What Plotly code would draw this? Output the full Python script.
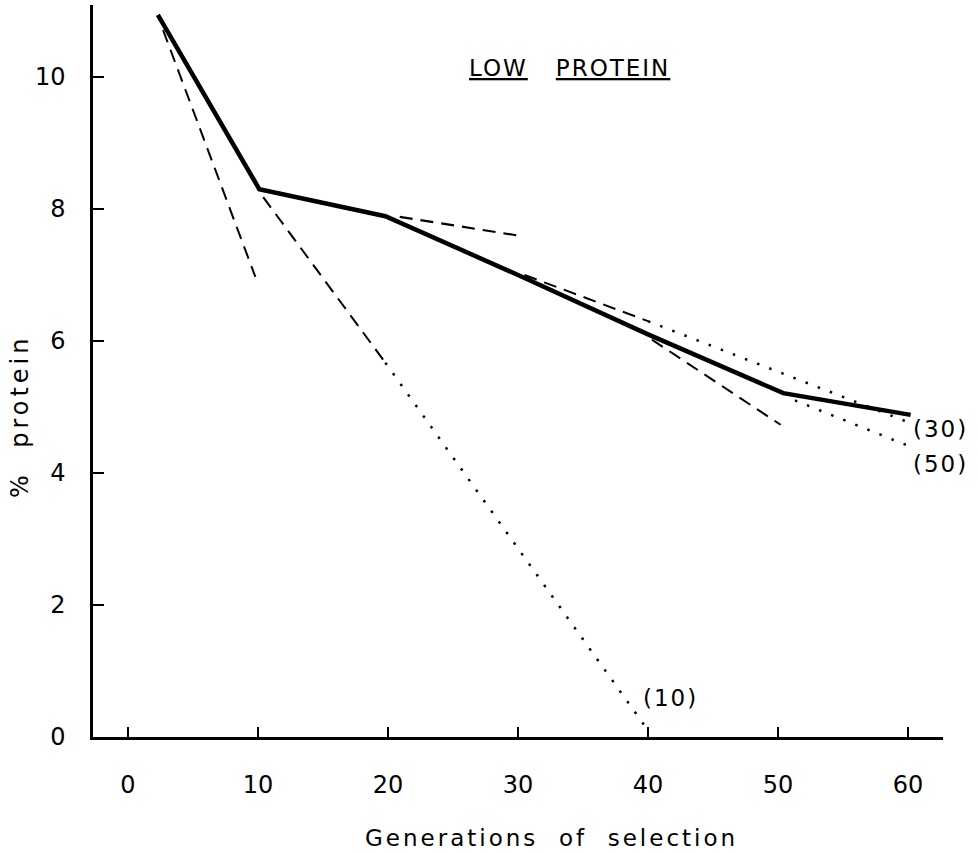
import plotly.graph_objects as go

# Observed response (solid line)
gen_obs = [2.3, 10.1, 19.8, 30.0, 40.0, 50.4, 60.2]
prot_obs = [10.94, 8.3, 7.89, 7.0, 6.1, 5.21, 4.88]

# Predicted responses from various generations (dashed = short term, dotted = extrapolation)
p2_dash_x, p2_dash_y = [2.7, 9.8], [10.71, 6.97]
p10_dash_x, p10_dash_y = [10.4, 19.8], [8.18, 5.67]
p10_dot_x, p10_dot_y = [19.8, 40.0], [5.67, 0.1]
p20_dash_x, p20_dash_y = [20.9, 29.9], [7.88, 7.6]
p30_dash_x, p30_dash_y = [30.5, 40.0], [7.0, 6.3]
p30_dot_x, p30_dot_y = [40.0, 60.0], [6.3, 4.77]
p40_dash_x, p40_dash_y = [40.3, 50.2], [6.02, 4.73]
p50_dot_x, p50_dot_y = [51.3, 60.3], [5.1, 4.39]

x_ticks = [0, 10, 20, 30, 40, 50, 60]
y_ticks = [0, 2, 4, 6, 8, 10]

FONT = "DejaVu Sans"
DASH = "13px,8px"
DOT = "2.5px,10.5px"

fig = go.Figure()

def add(x, y, width, dash):
    fig.add_trace(go.Scatter(x=x, y=y, mode="lines",
                             line=dict(color="black", width=width, dash=dash),
                             showlegend=False, hoverinfo="skip"))

add(gen_obs, prot_obs, 4.5, "solid")
add(p2_dash_x, p2_dash_y, 2, DASH)
add(p10_dash_x, p10_dash_y, 2, DASH)
add(p10_dot_x, p10_dot_y, 2.5, DOT)
add(p20_dash_x, p20_dash_y, 2.2, DASH)
add(p30_dash_x, p30_dash_y, 2, DASH)
add(p30_dot_x, p30_dot_y, 2.5, DOT)
add(p40_dash_x, p40_dash_y, 2, DASH)
add(p50_dot_x, p50_dot_y, 2.5, DOT)

labels = [("(10)", p10_dot_x[-1], p10_dot_y[-1], -7, 32),
          ("(30)", p30_dot_x[-1], p30_dot_y[-1], 3, -7),
          ("(50)", p50_dot_x[-1], p50_dot_y[-1], -1, -17)]
for txt, x, y, xs, ys in labels:
    fig.add_annotation(x=x, y=y, text='<span style="letter-spacing:2px">%s</span>' % txt,
                       showarrow=False, xanchor="left", yanchor="middle",
                       xshift=xs, yshift=ys, font=dict(family=FONT, size=23, color="black"))

fig.add_annotation(xref="paper", yref="paper", x=0.561, y=0.914,
                   text='<span style="letter-spacing:2px"><u>LOW</u>   <u>PROTEIN</u></span>',
                   showarrow=False, xanchor="center", yanchor="middle",
                   font=dict(family=FONT, size=23, color="black"))

fig.add_annotation(xref="paper", yref="paper", x=0.539, y=-0.138,
                   text='<span style="letter-spacing:3px">Generations  of  selection</span>',
                   showarrow=False, xanchor="center", yanchor="middle",
                   font=dict(family=FONT, size=23, color="black"))

fig.add_annotation(xref="paper", yref="paper", x=-0.086, y=0.4385,
                   text='<span style="letter-spacing:4px">%  protein</span>',
                   showarrow=False, xanchor="center", yanchor="middle", textangle=-90,
                   font=dict(family=FONT, size=24, color="black"))

fig.update_layout(
    width=978, height=853,
    margin=dict(l=93, r=35, t=5, b=116),
    plot_bgcolor="white", paper_bgcolor="white",
    xaxis=dict(range=[-2.69, 62.69], tickvals=x_ticks, ticktext=[str(v) for v in x_ticks],
               showline=True, linecolor="black", linewidth=2.5, mirror=False,
               ticks="inside", ticklen=10, tickwidth=2, tickcolor="black",
               showgrid=False, zeroline=False, ticklabelstandoff=24,
               tickfont=dict(family=FONT, size=24, color="black")),
    yaxis=dict(range=[0, 11.09], tickvals=y_ticks, ticktext=[str(v) for v in y_ticks],
               showline=True, linecolor="black", linewidth=2.5,
               ticks="inside", ticklen=11, tickwidth=2, tickcolor="black",
               showgrid=False, zeroline=False, ticklabelstandoff=20,
               tickfont=dict(family=FONT, size=24, color="black")),
)

fig.write_html("out.html")
